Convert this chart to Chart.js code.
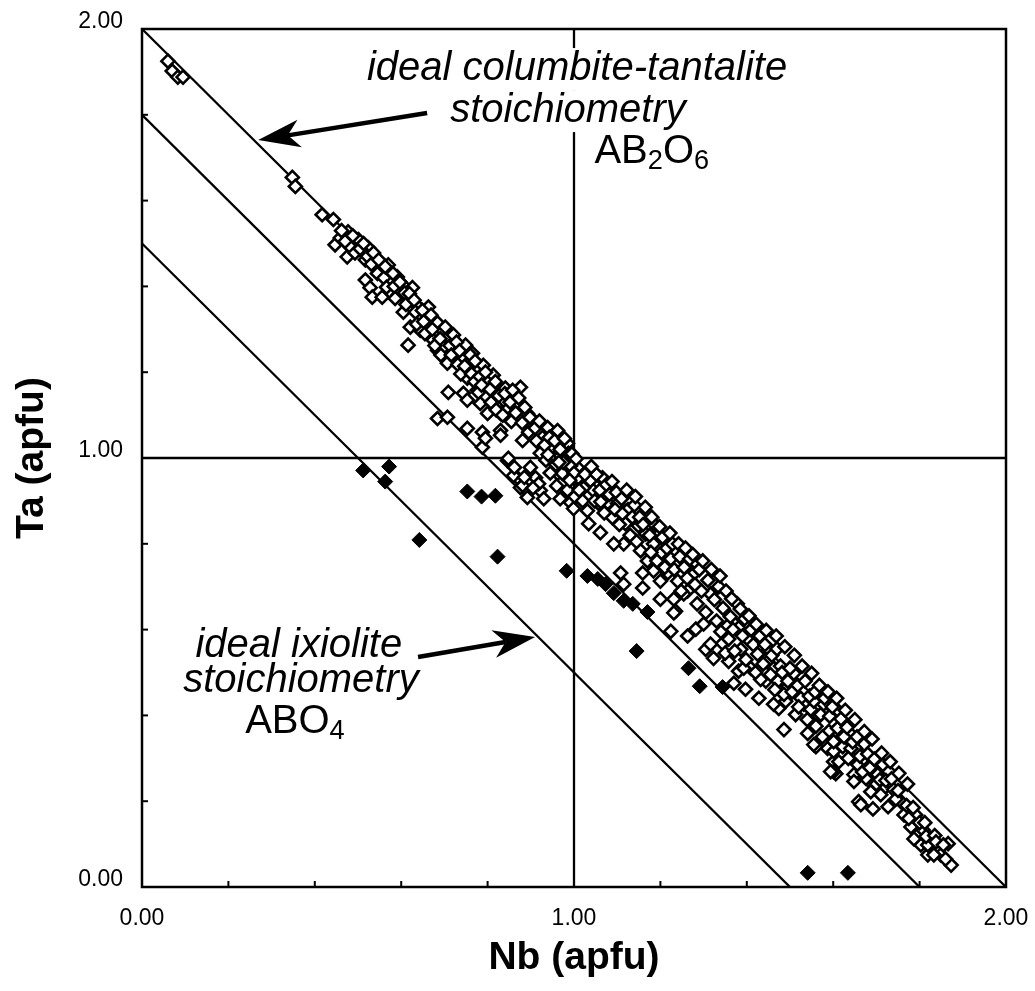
<!DOCTYPE html>
<html>
<head>
<meta charset="utf-8">
<script src="https://cdn.jsdelivr.net/npm/chart.js@4/dist/chart.umd.min.js"></script>
<style>
  html, body { margin: 0; padding: 0; background: #fff; }
</style>
</head>
<body>
<canvas id="grafico" width="1035" height="991"></canvas>
<script>
// Columbita-tantalita (diamantes abiertos): [Nb, Ta] en apfu
const columbita = [
  [0.060,1.925],[0.070,1.902],[0.083,1.888],[0.095,1.888],[0.348,1.654],[0.355,1.633],
  [0.417,1.567],[0.443,1.556],[0.447,1.497],[0.459,1.513],[0.477,1.527],[0.482,1.492],
  [0.475,1.469],[0.501,1.509],[0.510,1.481],[0.517,1.462],[0.524,1.490],[0.517,1.415],
  [0.528,1.397],[0.533,1.375],[0.540,1.457],[0.552,1.439],[0.556,1.375],[0.570,1.450],
  [0.575,1.415],[0.575,1.387],[0.591,1.422],[0.593,1.380],[0.603,1.404],[0.605,1.340],
  [0.614,1.368],[0.626,1.397],[0.640,1.352],[0.644,1.333],[0.616,1.263],[0.621,1.305],
  [0.644,1.298],[0.663,1.352],[0.663,1.322],[0.674,1.275],[0.684,1.315],[0.695,1.298],
  [0.684,1.251],[0.698,1.258],[0.709,1.282],[0.721,1.287],[0.721,1.235],[0.707,1.221],
  [0.742,1.235],[0.749,1.263],[0.756,1.221],[0.765,1.244],[0.776,1.205],[0.790,1.216],
  [0.800,1.186],[0.813,1.193],[0.823,1.165],[0.841,1.163],[0.876,1.165],[0.709,1.153],
  [0.744,1.151],[0.776,1.158],[0.684,1.092],[0.707,1.095],[0.753,1.069],[0.788,1.060],
  [0.788,1.025],[0.795,1.046],[0.830,1.064],[0.846,0.994],[0.869,0.954],[0.876,0.931],
  [0.899,0.978],[0.911,0.954],[0.922,0.924],[0.906,1.088],[0.927,1.048],[0.952,1.018],
  [0.980,1.001],[0.985,1.034],[0.962,0.964],[1.008,0.978],[1.015,0.943],[1.038,0.947],
  [1.045,0.924],[0.846,1.118],[0.860,1.142],[0.830,1.104],[0.800,1.104],[0.892,1.104],
  [0.939,1.071],[0.962,1.064],[0.753,1.186],[0.779,1.153],[0.753,1.135],[0.783,1.127],
  [0.813,1.165],[0.837,1.135],[0.869,1.123],[0.830,1.053],[0.848,0.999],[0.860,0.959],
  [0.881,0.936],[0.892,0.908],[0.881,1.041],[0.922,1.011],[0.946,1.022],[0.950,0.994],
  [0.973,0.964],[0.987,1.011],[0.918,0.940],[0.992,0.982],[1.010,0.954],[1.066,0.954],
  [0.992,0.896],[0.999,0.882],[1.031,0.877],[1.034,0.847],[1.061,0.826],[1.057,0.894],
  [1.078,0.896],[1.101,0.894],[1.089,0.861],[1.119,0.847],[1.115,0.800],[1.092,0.800],
  [1.149,0.842],[1.166,0.823],[1.154,0.784],[1.170,0.760],[1.184,0.800],[1.200,0.777],
  [1.224,0.765],[1.108,0.732],[1.115,0.706],[1.184,0.737],[1.200,0.713],[1.217,0.732],
  [1.240,0.713],[1.159,0.732],[1.159,0.697],[1.270,0.737],[1.263,0.690],[1.200,0.671],
  [1.231,0.671],[1.235,0.643],[1.254,0.683],[1.277,0.730],[1.316,0.683],[1.224,0.596],
  [1.263,0.585],[1.282,0.601],[1.305,0.554],[1.323,0.533],[1.300,0.613],[1.344,0.568],
  [1.358,0.578],[1.381,0.604],[1.402,0.578],[1.358,0.526],[1.381,0.503],[1.370,0.475],
  [1.397,0.461],[1.409,0.510],[1.425,0.543],[1.448,0.526],[1.451,0.554],[1.428,0.440],
  [1.444,0.480],[1.472,0.480],[1.474,0.416],[1.495,0.468],[1.509,0.498],[1.490,0.433],
  [1.513,0.402],[1.532,0.426],[1.486,0.367],[1.541,0.358],[1.567,0.398],[1.578,0.426],
  [1.560,0.327],[1.587,0.323],[1.599,0.358],[1.622,0.327],[1.641,0.356],[1.601,0.292],
  [1.606,0.264],[1.645,0.309],[1.671,0.332],[1.648,0.262],[1.671,0.288],[1.703,0.262],
  [1.692,0.239],[1.715,0.285],[1.548,0.414],[1.571,0.402],[1.590,0.363],[1.555,0.332],
  [1.601,0.316],[1.613,0.292],[1.601,0.269],[1.652,0.323],[1.657,0.285],[1.676,0.253],
  [1.648,0.246],[1.729,0.269],[1.687,0.222],[1.717,0.229],[1.740,0.227],[1.659,0.199],
  [1.692,0.182],[1.727,0.187],[1.757,0.199],[1.764,0.168],[1.791,0.168],[1.780,0.140],
  [1.796,0.122],[1.803,0.098],[1.819,0.075],[1.842,0.089],[1.849,0.075],[1.873,0.051],
  [1.866,0.101],[1.826,0.112],[1.808,0.133],[1.231,0.639],[1.316,0.566],[1.355,0.608],
  [1.386,0.554],[1.393,0.510],[1.432,0.484],[1.462,0.510],[1.495,0.480],[1.486,0.449],
  [1.525,0.440],[1.555,0.433],[1.462,0.426],[1.613,0.409],[1.601,0.339],[1.594,0.269],
  [1.641,0.323],[1.671,0.299],[1.664,0.192],[1.710,0.215],[1.787,0.112],[1.819,0.098],
  [1.833,0.075],
  [0.462,1.530],[0.470,1.505],[0.488,1.518],[0.493,1.478],[0.505,1.488],[0.513,1.500],
  [0.522,1.470],[0.531,1.452],[0.536,1.478],[0.545,1.430],[0.548,1.462],[0.560,1.420],
  [0.563,1.446],[0.566,1.398],[0.581,1.430],[0.584,1.400],[0.586,1.372],[0.597,1.410],
  [0.608,1.385],[0.611,1.358],[0.619,1.383],[0.630,1.368],[0.633,1.340],[0.636,1.312],
  [0.649,1.344],[0.652,1.318],[0.655,1.290],[0.669,1.333],[0.672,1.300],[0.678,1.262],
  [0.690,1.278],[0.692,1.240],[0.702,1.305],[0.713,1.262],[0.716,1.240],[0.728,1.270],
  [0.731,1.218],[0.735,1.250],[0.738,1.196],[0.747,1.214],[0.760,1.240],[0.763,1.196],
  [0.770,1.178],[0.771,1.226],[0.782,1.190],[0.786,1.170],[0.795,1.200],[0.806,1.160],
  [0.808,1.130],[0.818,1.178],[0.820,1.112],[0.826,1.145],[0.835,1.100],[0.840,1.150],
  [0.852,1.130],[0.855,1.085],[0.858,1.158],[0.865,1.105],[0.872,1.140],[0.880,1.082],
  [0.886,1.118],[0.895,1.060],[0.898,1.095],[0.910,1.070],[0.913,1.040],[0.920,1.086],
  [0.932,1.030],[0.935,0.995],[0.943,1.048],[0.955,1.040],[0.958,0.985],[0.968,1.020],
  [0.975,0.990],[0.978,1.045],[0.995,1.010],[1.000,0.965],[1.005,0.998],[0.862,0.978],
  [0.885,0.955],[0.905,0.930],[0.930,0.905],[0.945,0.965],[0.960,0.935],[0.968,0.905],
  [0.985,0.925],[1.002,0.910],[1.020,0.900],[1.022,0.930],[1.025,0.962],[1.048,0.900],
  [1.052,0.962],[1.060,0.925],[1.070,0.872],[1.075,0.938],[1.082,0.915],[1.095,0.880],
  [1.098,0.920],[1.105,0.845],[1.110,0.905],[1.125,0.880],[1.130,0.820],[1.135,0.862],
  [1.140,0.890],[1.145,0.805],[1.152,0.862],[1.160,0.845],[1.175,0.820],[1.178,0.780],
  [1.188,0.843],[1.192,0.760],[1.205,0.815],[1.210,0.745],[1.215,0.790],[1.228,0.800],
  [1.232,0.740],[1.245,0.770],[1.248,0.690],[1.255,0.745],[1.262,0.720],[1.268,0.765],
  [1.280,0.705],[1.285,0.660],[1.290,0.740],[1.295,0.690],[1.305,0.640],[1.310,0.715],
  [1.325,0.670],[1.330,0.620],[1.335,0.700],[1.340,0.595],[1.345,0.650],[1.350,0.545],
  [1.362,0.630],[1.368,0.600],[1.372,0.550],[1.378,0.660],[1.390,0.585],[1.395,0.625],
  [1.398,0.530],[1.410,0.600],[1.415,0.565],[1.420,0.500],[1.430,0.585],[1.438,0.520],
  [1.442,0.565],[1.455,0.495],[1.458,0.540],[1.465,0.460],[1.470,0.555],[1.478,0.515],
  [1.482,0.500],[1.500,0.510],[1.505,0.455],[1.518,0.470],[1.520,0.420],[1.535,0.480],
  [1.540,0.390],[1.545,0.445],[1.558,0.455],[1.560,0.375],[1.575,0.350],[1.580,0.440],
  [1.592,0.398],[1.598,0.420],[1.610,0.370],[1.618,0.392],[1.625,0.350],[1.632,0.372],
  [1.635,0.300],[1.645,0.338],[1.655,0.350],[1.662,0.305],[1.668,0.268],[1.680,0.310],
  [1.685,0.278],[1.695,0.298],[1.700,0.240],[1.708,0.250],[1.722,0.248],[1.735,0.252],
  [1.745,0.205],[1.750,0.225],[1.770,0.190],[1.775,0.160],[1.785,0.185],[1.800,0.150],
  [1.812,0.150],[1.815,0.118],[1.835,0.120],[1.838,0.105],[1.855,0.098],[1.860,0.065],
  [0.940,1.008],[0.965,0.990],[0.990,0.948],[1.012,0.925],[1.040,0.980],[1.062,0.898],
  [1.088,0.945],[1.112,0.870],[1.122,0.925],[1.142,0.910],[1.165,0.885],[1.180,0.862],
  [1.198,0.840],[1.222,0.825],[1.242,0.800],[1.258,0.790],[1.275,0.775],[1.298,0.760],
  [1.318,0.740],[1.338,0.725],[1.352,0.690],[1.365,0.672],[1.385,0.648],[1.405,0.632],
  [1.422,0.612],[1.445,0.598],[1.468,0.585],[1.488,0.560],[1.510,0.540],[1.528,0.515],
  [1.550,0.498],[1.568,0.470],[1.588,0.455],[1.608,0.440],[1.628,0.412],[1.650,0.390],
  [1.672,0.362],[1.690,0.345],[1.712,0.312],[1.732,0.292],[1.752,0.265],[1.772,0.240]
];

// Ixiolita (diamantes llenos)
const ixiolita = [
  [0.512,0.971],[0.572,0.980],[0.563,0.945],[0.642,0.809],[0.753,0.922],[0.786,0.910],
  [0.818,0.912],[0.823,0.770],[0.983,0.737],[1.031,0.725],[1.055,0.718],[1.073,0.706],
  [1.092,0.685],[1.115,0.667],[1.136,0.660],[1.170,0.641],[1.145,0.550],[1.265,0.510],
  [1.291,0.468],[1.344,0.466],[1.541,0.033],[1.634,0.033]
];

// Rectas de referencia
const lineaAB2O6 = [[0, 2], [2, 0]];
const lineaMedia = [[0, 1.8], [1.8, 0]];
const lineaABO4 = [[0, 1.5], [1.5, 0]];
const cruzVertical = [[1, 0], [1, 2]];
const cruzHorizontal = [[0, 1], [2, 1]];

// Ejes
const ejeMin = 0, ejeMax = 2, paso = 0.2;
const etiquetasEje = [0, 1, 2];

const aPuntos = arr => arr.map(([x, y]) => ({ x, y }));

function recta(datos) {
  return {
    data: aPuntos(datos), showLine: true, borderColor: '#000', borderWidth: 2.3,
    pointRadius: 0, pointHoverRadius: 0, fill: false
  };
}

const fuente = '"Liberation Sans", Arial, Helvetica, sans-serif';

function flecha(ctx, x0, y0, x1, y1) {
  const ang = Math.atan2(y1 - y0, x1 - x0);
  const c = Math.cos(ang), s = Math.sin(ang);
  const largo = 42, ancho = 14, muesca = 30;
  ctx.lineWidth = 4.5;
  ctx.beginPath();
  ctx.moveTo(x0, y0);
  ctx.lineTo(x1 - c * muesca, y1 - s * muesca);
  ctx.stroke();
  const bx = x1 - c * largo, by = y1 - s * largo;
  ctx.beginPath();
  ctx.moveTo(x1, y1);
  ctx.lineTo(bx - s * ancho, by + c * ancho);
  ctx.lineTo(x1 - c * muesca, y1 - s * muesca);
  ctx.lineTo(bx + s * ancho, by - c * ancho);
  ctx.closePath();
  ctx.fill();
}

function texto(ctx, t, cx, base, font, fondo) {
  ctx.font = font;
  const w = ctx.measureText(t).width;
  if (fondo) {
    ctx.fillStyle = '#fff';
    ctx.fillRect(cx - w / 2 - 4, base - 32, w + 8, 42);
    ctx.fillStyle = '#000';
  }
  ctx.textAlign = 'center';
  ctx.textBaseline = 'alphabetic';
  ctx.fillText(t, cx, base);
}

function formula(ctx, partes, cx, base, tam, fondo) {
  const sub = tam * 0.68;
  let total = 0;
  partes.forEach(([t, esSub]) => {
    ctx.font = (esSub ? sub : tam) + 'px ' + fuente;
    total += ctx.measureText(t).width;
  });
  if (fondo) {
    ctx.fillStyle = '#fff';
    ctx.fillRect(cx - total / 2 - 4, base - 32, total + 8, 44);
    ctx.fillStyle = '#000';
  }
  let x = cx - total / 2;
  ctx.textAlign = 'left';
  ctx.textBaseline = 'alphabetic';
  partes.forEach(([t, esSub]) => {
    ctx.font = (esSub ? sub : tam) + 'px ' + fuente;
    ctx.fillText(t, x, esSub ? base + tam * 0.16 : base);
    x += ctx.measureText(t).width;
  });
}

// Marco, marcas interiores, anotaciones y títulos
const decoraciones = {
  id: 'decoraciones',
  afterDatasetsDraw(chart) {
    const { ctx, chartArea: a, scales: { x, y } } = chart;
    const px = v => x.getPixelForValue(v);
    const py = v => y.getPixelForValue(v);
    ctx.save();
    ctx.fillStyle = '#000';
    ctx.strokeStyle = '#000';

    // anotación columbita-tantalita
    const it = 'italic 40px ' + fuente;
    texto(ctx, 'ideal columbite-tantalite', px(1.007), py(1.881), it, true);
    texto(ctx, 'stoichiometry', px(0.986), py(1.783), it, true);
    formula(ctx, [['AB', 0], ['2', 1], ['O', 0], ['6', 1]], px(1.18), py(1.688), 40, true);
    flecha(ctx, px(0.660), py(1.804), px(0.269), py(1.741));

    // anotación ixiolita
    texto(ctx, 'ideal ixiolite', px(0.363), py(0.536), it, false);
    texto(ctx, 'stoichiometry', px(0.368), py(0.455), it, false);
    formula(ctx, [['ABO', 0], ['4', 1]], px(0.354), py(0.359), 40, false);
    flecha(ctx, px(0.639), py(0.536), px(0.910), py(0.583));

    // marco
    ctx.lineWidth = 2.5;
    ctx.strokeRect(a.left, a.top, a.right - a.left, a.bottom - a.top);

    // marcas hacia dentro
    ctx.lineWidth = 2;
    x.ticks.forEach(t => {
      const p = px(t.value);
      ctx.beginPath(); ctx.moveTo(p, a.bottom); ctx.lineTo(p, a.bottom - 6); ctx.stroke();
    });
    y.ticks.forEach(t => {
      const p = py(t.value);
      ctx.beginPath(); ctx.moveTo(a.left, p); ctx.lineTo(a.left + 6, p); ctx.stroke();
    });

    // títulos de ejes
    ctx.font = 'bold 39px ' + fuente;
    ctx.textAlign = 'center';
    ctx.textBaseline = 'middle';
    ctx.fillText('Nb (apfu)', (a.left + a.right) / 2, 958);
    ctx.translate(32, (a.top + a.bottom) / 2);
    ctx.rotate(-Math.PI / 2);
    ctx.fillText('Ta (apfu)', 0, 0);
    ctx.restore();
  }
};

function etiqueta(v) {
  const r = Math.round(v);
  return Math.abs(v - r) < 1e-6 && etiquetasEje.includes(r) ? r.toFixed(2) : '';
}

const ctx = document.getElementById('grafico').getContext('2d');
new Chart(ctx, {
  type: 'scatter',
  data: {
    datasets: [
      {
        label: 'ixiolite', data: aPuntos(ixiolita), pointStyle: 'rectRot',
        pointRadius: 7.5, backgroundColor: '#000', borderColor: '#000', borderWidth: 1
      },
      {
        label: 'columbite-tantalite', data: aPuntos(columbita), pointStyle: 'rectRot',
        pointRadius: 6.5, backgroundColor: '#fff', borderColor: '#000', borderWidth: 2.6
      },
      recta(lineaAB2O6),
      recta(lineaMedia),
      recta(lineaABO4),
      recta(cruzVertical),
      recta(cruzHorizontal)
    ]
  },
  options: {
    responsive: false,
    animation: false,
    layout: { padding: { left: 0, top: 29, right: 29, bottom: 0 } },
    plugins: { legend: { display: false }, tooltip: { enabled: false } },
    scales: {
      x: {
        type: 'linear', min: ejeMin, max: ejeMax,
        grid: { display: false, drawTicks: false },
        border: { display: false },
        ticks: {
          stepSize: paso, autoSkip: false, maxRotation: 0, padding: 18,
          color: '#000', font: { family: fuente, size: 23 }, callback: etiqueta
        },
        afterFit: s => { s.height = 104; s.paddingLeft = 0; s.paddingRight = 0; }
      },
      y: {
        type: 'linear', min: ejeMin, max: ejeMax,
        grid: { display: false, drawTicks: false },
        border: { display: false },
        ticks: {
          stepSize: paso, autoSkip: false, padding: 19, labelOffset: -7,
          color: '#000', font: { family: fuente, size: 23 }, callback: etiqueta
        },
        afterFit: s => { s.width = 142; s.paddingTop = 0; s.paddingBottom = 0; }
      }
    }
  },
  plugins: [decoraciones]
});
</script>
</body>
</html>
